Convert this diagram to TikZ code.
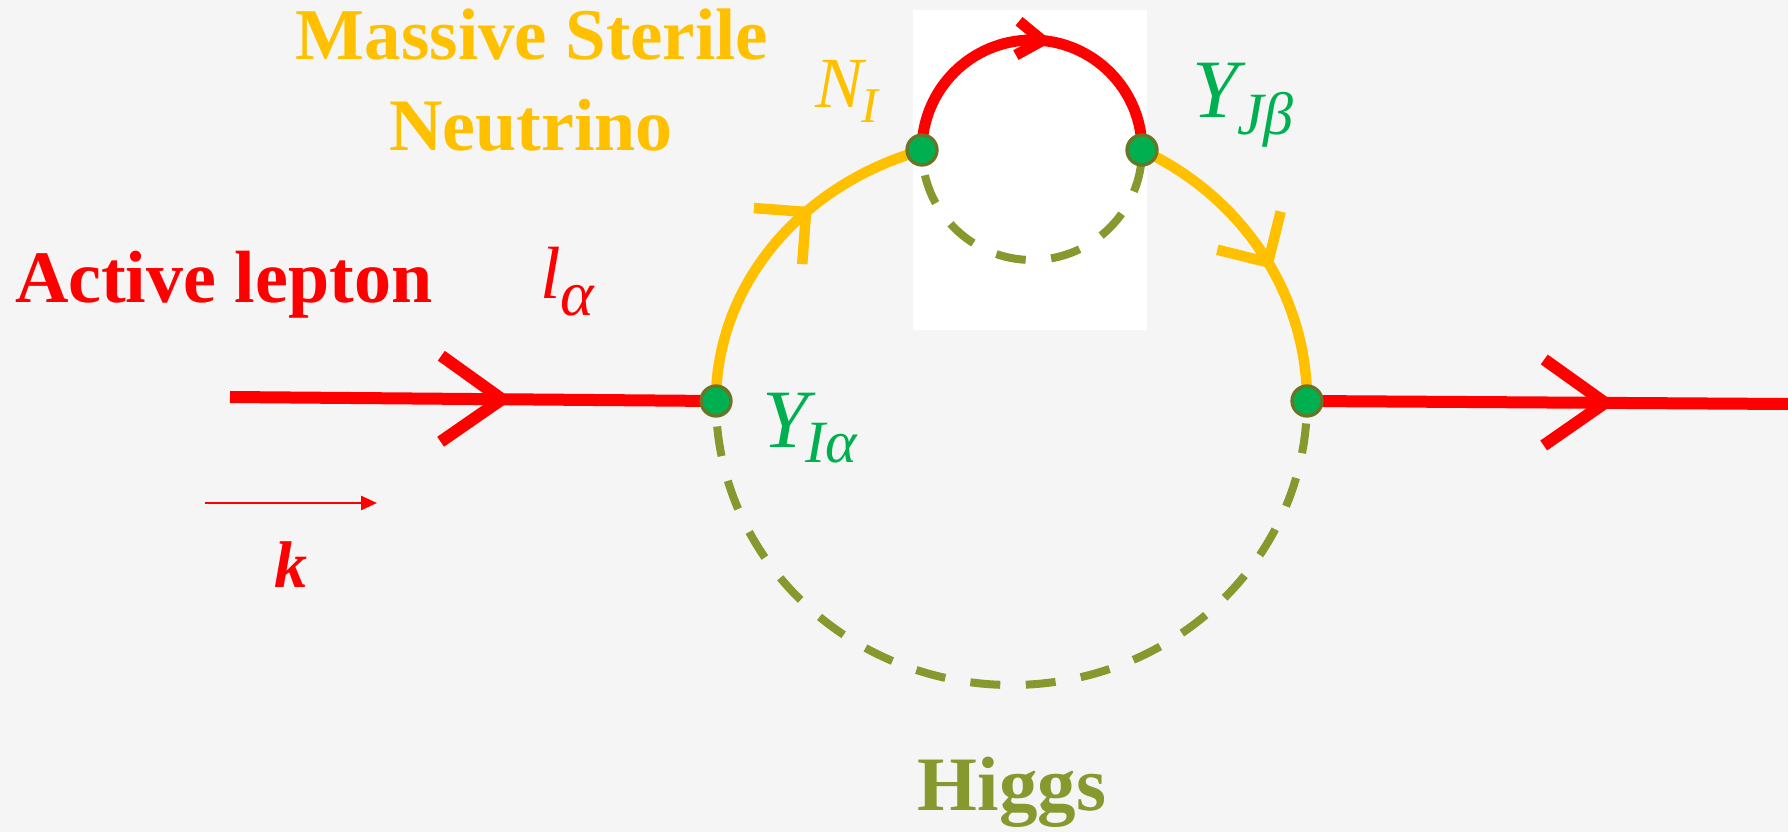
\documentclass[tikz,border=0pt]{standalone}
\usepackage{fontspec}
\setmainfont{Liberation Serif}
\usetikzlibrary{arrows.meta,decorations.markings}

\definecolor{lepred}{HTML}{FF0000}
\definecolor{sterile}{HTML}{FFC000}
\definecolor{yukawa}{HTML}{00B050}
\definecolor{higgsolive}{HTML}{86992E}
\definecolor{dotrim}{HTML}{6B7424}
\definecolor{paper}{HTML}{F5F5F5}

\newcommand\setfs[1]{\fontsize{#1}{#1}\selectfont}

\tikzset{
  % lepton line with a large open chevron
  lepline/.style={draw=lepred, line width=12pt},
  lepchev/.style={postaction={decorate}, decoration={markings,
      mark=at position #1 with {\draw[lepline, line join=miter]
        (-61pt,43pt) -- (0pt,0pt) -- (-61pt,-43pt);}}},
  % sterile neutrino propagator
  nuline/.style={draw=sterile, line width=10.5pt},
  nuchev/.style={postaction={decorate}, decoration={markings,
      mark=at position #1 with {\draw[nuline, line join=miter]
        (-37pt,37pt) -- (0pt,0pt) -- (-37pt,-37pt);}}},
  % lepton inside the small loop
  loopline/.style={draw=lepred, line width=11pt},
  loopchev/.style={postaction={decorate}, decoration={markings,
      mark=at position #1 with {\draw[loopline, line join=miter]
        (-25pt,17pt) -- (0pt,0pt) -- (-25pt,-17pt);}}},
  % Higgs propagator
  scalar/.style={draw=higgsolive, line width=8pt,
      dash pattern=on 30pt off 25.5pt, dash phase=30pt},
  vertex/.style={circle, fill=yukawa, draw=dotrim, line width=3.3pt,
      minimum size=30pt, inner sep=0pt},
  txt/.style={inner sep=0pt, outer sep=0pt},
}

\begin{document}
\begin{tikzpicture}[x=1pt, y=-1pt]
  % canvas
  \fill[paper] (0,0) rectangle (1788,832);
  \useasboundingbox (0,0) rectangle (1788,832);
  \fill[white] (913,10) rectangle (1147,330);

  % vertices and line ends
  \coordinate (lin)  at (230,397);
  \coordinate (lout) at (1788,404);
  \coordinate (A) at (716,401);
  \coordinate (B) at (1307,401);
  \coordinate (C) at (922,150);
  \coordinate (D) at (1142,150);
  \coordinate (k1) at (205,503);
  \coordinate (k2) at (377,503);

  % external lepton lines
  \draw[lepline, lepchev=272pt] (lin) -- (A);
  \draw[lepline, lepchev=298pt] (B) -- (lout);

  % sterile neutrino arcs of the big loop
  \draw[nuline, nuchev=0.62] (A) arc[start angle=180, end angle=252.4,
        x radius=295.5, y radius=263];
  \draw[nuline, nuchev=0.54] (D) arc[start angle=296.2, end angle=360,
        x radius=295.5, y radius=280];

  % small self-energy loop
  \draw[loopline, loopchev=0.53] (C) arc[start angle=180, end angle=360, radius=110];
  \draw[scalar] (C) arc[start angle=180, end angle=0, radius=110];

  % Higgs line of the big loop
  \draw[scalar] (A) arc[start angle=180, end angle=0,
        x radius=295.5, y radius=284];

  % momentum arrow
  \draw[draw=lepred, line width=2.5pt, -{Triangle[length=16pt, width=14pt]}] (k1) -- (k2);

  % vertex dots
  \node[vertex] (vA) at (A) {};
  \node[vertex] (vB) at (B) {};
  \node[vertex] (vC) at (C) {};
  \node[vertex] (vD) at (D) {};

  % labels
  \node[txt, text=lepred, font=\bfseries\setfs{74}, anchor=base west]
    (active) at (15,302) {Active lepton};
  \node[txt, text=sterile, font=\bfseries\setfs{73}, anchor=base]
    (massive) at (532,60) {Massive Sterile};
  \node[txt, text=sterile, font=\bfseries\setfs{74}, anchor=base]
    (neutrino) at (531,150) {Neutrino};
  \node[txt, text=higgsolive, font=\bfseries\setfs{77}, anchor=base]
    (higgs) at (1012,810) {Higgs};
  \node[txt, text=lepred, font=\itshape\setfs{74}, anchor=base west]
    (lalpha) at (540,298) {l\raisebox{-17pt}{\setfs{64}α}};
  \node[txt, text=sterile, font=\itshape\setfs{72}, anchor=base west]
    (nI) at (815,108) {N\kern-2pt\raisebox{-15pt}{\setfs{50}I}};
  \node[txt, text=yukawa, font=\itshape\setfs{83}, anchor=base west]
    (yjb) at (1192,118) {Y\kern-1pt\raisebox{-17pt}{\setfs{60}Jβ}};
  \node[txt, text=yukawa, font=\itshape\setfs{83}, anchor=base west]
    (yia) at (762,447) {Y\kern-3pt\raisebox{-15pt}{\setfs{60}Iα}};
  \node[txt, text=lepred, font=\bfseries\itshape\setfs{66}, anchor=base west]
    (kmom) at (274,587) {k};
\end{tikzpicture}
\end{document}
